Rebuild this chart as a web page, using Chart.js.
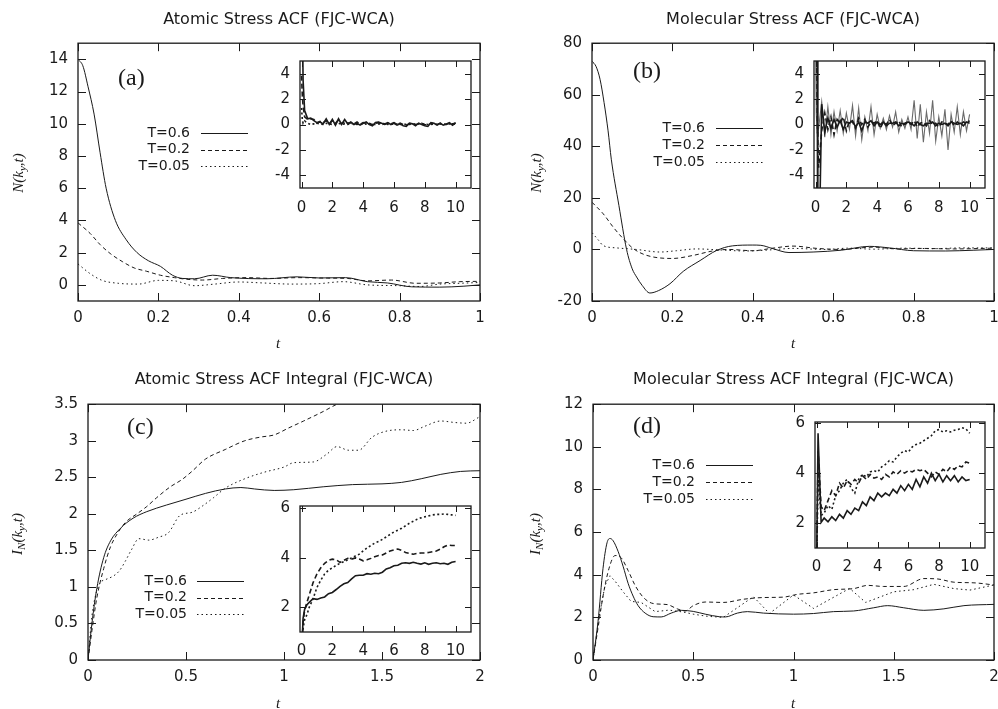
<!DOCTYPE html>
<html>
<head>
<meta charset="utf-8">
<script src="https://cdn.jsdelivr.net/npm/chart.js@4.4.1/dist/chart.umd.min.js"></script>
<style>
  html, body { margin: 0; padding: 0; background: #fff; }
  #wrap { position: relative; width: 998px; height: 709px; overflow: hidden; }
  #wrap canvas { position: absolute; }
</style>
</head>
<body>
<div id="wrap">
  <canvas id="cA" style="left:0;top:0" width="498" height="355"></canvas>
  <canvas id="cB" style="left:498px;top:0" width="500" height="355"></canvas>
  <canvas id="cC" style="left:0;top:355px" width="498" height="354"></canvas>
  <canvas id="cD" style="left:498px;top:355px" width="500" height="354"></canvas>
  <canvas id="iA" style="left:258px;top:53px" width="230" height="170"></canvas>
  <canvas id="iB" style="left:772px;top:53px" width="226" height="170"></canvas>
  <canvas id="iC" style="left:258px;top:498px" width="230" height="170"></canvas>
  <canvas id="iD" style="left:773px;top:414px" width="225" height="170"></canvas>
</div>
<script>
// подписи серий и стили линий
const temps = ['T=0.6', 'T=0.2', 'T=0.05'];
const dashes = [[], [4, 3], [1.5, 3]];
const insetDashes = [[], [5, 3], [2, 2.5]];
const INK = '#1a1a1a';

// тики
const aXTicks = [0, 0.2, 0.4, 0.6, 0.8, 1];
const aYTicks = [0, 2, 4, 6, 8, 10, 12, 14];
const bYTicks = [-20, 0, 20, 40, 60, 80];
const cXTicks = [0, 0.5, 1, 1.5, 2];
const cYTicks = [0, 0.5, 1, 1.5, 2, 2.5, 3, 3.5];
const dYTicks = [0, 2, 4, 6, 8, 10, 12];
const insetXTicks = [0, 2, 4, 6, 8, 10];
const insetACFTicks = [-4, -2, 0, 2, 4];
const insetIntTicks = [2, 4, 6];

// (a) Atomic Stress ACF
const aX06 = [0, 0.012, 0.025, 0.04, 0.055, 0.07, 0.093, 0.12, 0.147, 0.175, 0.205, 0.235, 0.26, 0.29, 0.335, 0.38, 0.47, 0.545, 0.6, 0.665, 0.72, 0.77, 0.83, 0.9, 0.96, 1.0];
const aY06 = [14, 13.6, 12.3, 10.6, 8.2, 6.0, 4.0, 2.8, 2.0, 1.5, 1.15, 0.6, 0.4, 0.38, 0.6, 0.45, 0.38, 0.5, 0.43, 0.45, 0.2, 0.12, -0.12, -0.14, -0.08, 0];
const aX02 = [0, 0.03, 0.055, 0.08, 0.11, 0.14, 0.17, 0.205, 0.24, 0.27, 0.31, 0.36, 0.42, 0.48, 0.55, 0.62, 0.67, 0.72, 0.78, 0.84, 0.9, 0.95, 1.0];
const aY02 = [3.85, 3.2, 2.5, 1.95, 1.45, 1.05, 0.85, 0.6, 0.45, 0.35, 0.3, 0.4, 0.45, 0.4, 0.45, 0.42, 0.4, 0.25, 0.3, 0.1, 0.12, 0.2, 0.22];
const aX005 = [0, 0.03, 0.06, 0.1, 0.15, 0.2, 0.24, 0.29, 0.34, 0.4, 0.46, 0.53, 0.6, 0.66, 0.72, 0.8, 0.85, 0.9, 0.95, 1.0];
const aY005 = [1.3, 0.7, 0.28, 0.1, 0.05, 0.28, 0.25, -0.05, 0.05, 0.18, 0.12, 0.05, 0.08, 0.2, 0.0, -0.05, -0.1, 0.05, 0.1, 0.15];

// (b) Molecular Stress ACF
const bX06 = [0, 0.01, 0.02, 0.03, 0.04, 0.048, 0.067, 0.086, 0.1, 0.111, 0.125, 0.144, 0.165, 0.194, 0.227, 0.269, 0.31, 0.35, 0.4, 0.42, 0.45, 0.49, 0.55, 0.62, 0.69, 0.74, 0.8, 0.88, 0.95, 1.0];
const bY06 = [73, 71, 66, 57, 46, 35, 17, 0, -7.5, -10.7, -14, -16.9, -16, -13.3, -8.5, -4.3, -0.4, 1.4, 1.7, 1.6, 0.3, -1.2, -1.0, -0.3, 1.2, 0.6, -0.5, -0.6, -0.3, 0];
const bX02 = [0, 0.028, 0.053, 0.078, 0.103, 0.136, 0.2, 0.252, 0.3, 0.34, 0.4, 0.45, 0.5, 0.56, 0.62, 0.7, 0.76, 0.82, 0.9, 1.0];
const bY02 = [18.3, 13.8, 8.6, 4.1, 0.3, -2.3, -3.5, -2.3, -0.6, 0.0, -0.5, 0.5, 1.3, 0.4, 0.0, 0.9, 0.2, 0.4, 0.2, 0.5];
const bX005 = [0, 0.015, 0.028, 0.061, 0.11, 0.169, 0.21, 0.26, 0.32, 0.38, 0.44, 0.5, 0.58, 0.64, 0.7, 0.78, 0.85, 0.92, 1.0];
const bY005 = [6.5, 3.8, 1.5, 0.6, 0.0, -1.0, -0.5, 0.2, -0.2, -0.6, -0.2, 0.4, 0.0, 0.5, 0.1, 0.5, 0.3, 0.6, 0.6];

// (c) Atomic Stress ACF Integral
const cX06 = [0, 0.02, 0.045, 0.08, 0.115, 0.165, 0.23, 0.3, 0.4, 0.5, 0.6, 0.7, 0.78, 0.85, 0.95, 1.05, 1.2, 1.35, 1.5, 1.6, 1.7, 1.8, 1.9, 2.0];
const cY06 = [0, 0.5, 0.98, 1.4, 1.63, 1.8, 1.94, 2.03, 2.12, 2.2, 2.28, 2.34, 2.36, 2.34, 2.32, 2.33, 2.37, 2.4, 2.41, 2.43, 2.48, 2.54, 2.58, 2.59];
const cX02 = [0, 0.02, 0.045, 0.08, 0.115, 0.15, 0.19, 0.25, 0.3, 0.35, 0.42, 0.48, 0.53, 0.6, 0.7, 0.8, 0.88, 0.95, 1.02, 1.1, 1.2, 1.27, 1.4, 1.6, 1.8, 2.0];
const cY02 = [0, 0.4, 0.85, 1.25, 1.55, 1.73, 1.88, 2.0, 2.1, 2.22, 2.37, 2.47, 2.58, 2.75, 2.88, 3.0, 3.05, 3.08, 3.17, 3.27, 3.4, 3.5, 3.65, 3.85, 4.0, 4.15];
const cX005 = [0, 0.02, 0.04, 0.06, 0.09, 0.13, 0.16, 0.19, 0.22, 0.26, 0.31, 0.36, 0.41, 0.47, 0.53, 0.58, 0.64, 0.7, 0.8, 0.9, 1.0, 1.05, 1.15, 1.22, 1.27, 1.33, 1.38, 1.45, 1.52, 1.6, 1.66, 1.72, 1.8, 1.87, 1.93, 2.0];
const cY005 = [0, 0.6, 0.9, 1.05, 1.1, 1.15, 1.22, 1.35, 1.5, 1.66, 1.64, 1.68, 1.74, 1.98, 2.02, 2.1, 2.22, 2.35, 2.48, 2.57, 2.64, 2.7, 2.71, 2.82, 2.92, 2.87, 2.87, 3.05, 3.13, 3.15, 3.14, 3.2, 3.27, 3.25, 3.24, 3.33];

// (d) Molecular Stress ACF Integral
const dX06 = [0, 0.025, 0.05, 0.07, 0.085, 0.1, 0.125, 0.15, 0.175, 0.2, 0.225, 0.26, 0.3, 0.34, 0.39, 0.44, 0.5, 0.56, 0.63, 0.66, 0.72, 0.77, 0.85, 1.0, 1.1, 1.2, 1.3, 1.4, 1.47, 1.55, 1.65, 1.75, 1.85, 2.0];
const dY06 = [0, 1.8, 4.3, 5.5, 5.7, 5.6, 5.1, 4.4, 3.6, 3.0, 2.55, 2.2, 2.03, 2.02, 2.2, 2.33, 2.28, 2.15, 2.03, 2.02, 2.2, 2.27, 2.2, 2.15, 2.18, 2.27, 2.3, 2.45, 2.55, 2.45, 2.33, 2.4, 2.55, 2.61];
const dX02 = [0, 0.025, 0.05, 0.08, 0.11, 0.14, 0.175, 0.21, 0.25, 0.3, 0.37, 0.42, 0.46, 0.5, 0.56, 0.65, 0.75, 0.85, 0.95, 1.02, 1.1, 1.2, 1.3, 1.37, 1.45, 1.55, 1.65, 1.72, 1.8, 1.9, 2.0];
const dY02 = [0, 1.5, 3.0, 4.3, 4.9, 4.8, 4.2, 3.5, 2.95, 2.65, 2.6, 2.4, 2.3, 2.55, 2.72, 2.7, 2.85, 2.93, 2.95, 3.08, 3.15, 3.3, 3.35, 3.5, 3.45, 3.45, 3.82, 3.8, 3.65, 3.62, 3.52];
const dX005 = [0, 0.03, 0.06, 0.085, 0.11, 0.15, 0.19, 0.24, 0.31, 0.38, 0.45, 0.5, 0.57, 0.65, 0.8, 0.88, 1.0, 1.1, 1.28, 1.36, 1.5, 1.6, 1.7, 1.8, 1.88, 2.0];
const dY005 = [0, 2.0, 3.5, 3.95, 3.7, 3.2, 2.75, 2.7, 2.27, 2.34, 2.25, 2.15, 2.05, 2.0, 2.97, 2.18, 3.05, 2.42, 3.36, 2.7, 3.2, 3.3, 3.55, 3.35, 3.28, 3.52];

// вставки (insets), t = 0..10
const iaX = [0, 0.05, 0.1, 0.2, 0.4, 0.6, 0.8, 1, 1.2, 1.4, 1.6, 1.8, 2, 2.2, 2.4, 2.6, 2.8, 3, 3.2, 3.4, 3.6, 3.8, 4, 4.2, 4.4, 4.6, 4.8, 5, 5.2, 5.4, 5.6, 5.8, 6, 6.2, 6.4, 6.6, 6.8, 7, 7.2, 7.4, 7.6, 7.8, 8, 8.2, 8.4, 8.6, 8.8, 9, 9.2, 9.4, 9.6, 9.8, 10];
const iaY06 = [14, 9, 3.5, 1.1, 0.45, 0.5, 0.3, 0.15, 0.2, 0.05, 0.45, 0.0, 0.4, -0.05, 0.45, 0.0, 0.4, 0.05, 0.2, 0.0, 0.1, -0.05, 0.1, 0.2, 0.0, -0.1, 0.15, 0.2, 0.1, 0.05, 0.15, 0.0, 0.1, -0.05, 0.05, -0.1, -0.15, 0.1, 0.05, -0.1, 0.1, 0.0, -0.1, -0.15, 0.15, 0.1, -0.05, 0.1, -0.05, 0.05, 0.15, -0.05, 0.15];
const iaY02 = [3.85, 2.3, 1.45, 0.6, 0.4, 0.45, 0.4, 0.1, 0.25, 0.15, 0.3, 0.05, 0.3, 0.1, 0.35, 0.05, 0.25, 0.1, 0.15, 0.05, 0.2, 0.0, 0.15, 0.1, 0.05, 0.0, 0.1, 0.15, 0.05, 0.0, 0.1, 0.05, 0.15, 0.0, 0.1, 0.0, -0.05, 0.05, 0.1, 0.0, 0.05, 0.1, 0.0, -0.05, 0.1, 0.05, 0.0, 0.1, 0.05, 0.0, 0.1, 0.05, 0.1];
const iaY005 = [1.3, 0.4, 0.1, 0.28, 0.1, 0.0, 0.05, 0.1, 0.05, 0.0, 0.1, 0.05, 0.0, 0.05, 0.1, 0.0, 0.05, 0.0, 0.1, 0.05, 0.0, 0.05, 0.0, 0.05, 0.1, 0.0, 0.0, 0.05, 0.0, 0.05, 0.0, 0.05, 0.0, 0.05, 0.0, 0.05, 0.0, 0.0, 0.05, 0.0, 0.05, 0.0, 0.05, 0.0, 0.0, 0.05, 0.0, 0.05, 0.0, 0.0, 0.05, 0.0, 0.05];

const ibX = [0, 0.05, 0.1, 0.15, 0.2, 0.4, 0.6, 0.8, 1, 1.2, 1.4, 1.6, 1.8, 2, 2.2, 2.4, 2.6, 2.8, 3, 3.2, 3.4, 3.6, 3.8, 4, 4.2, 4.4, 4.6, 4.8, 5, 5.2, 5.4, 5.6, 5.8, 6, 6.2, 6.4, 6.6, 6.8, 7, 7.2, 7.4, 7.6, 7.8, 8, 8.2, 8.4, 8.6, 8.8, 9, 9.2, 9.4, 9.6, 9.8, 10];
const ibY06 = [73, 47, 10, -16.5, -12, 1.6, -0.6, 0.5, -0.3, 0.4, -0.2, 0.3, -0.4, 0.2, 0.1, 0.3, -0.2, 0.2, -0.5, 0.2, 0.1, 0.3, -0.1, 0.2, 0.0, 0.2, -0.1, 0.1, 0.1, 0.2, -0.1, 0.1, 0.0, 0.2, 0.1, -0.1, 0.2, 0.0, -0.1, 0.1, 0.1, 0.2, -0.1, 0.1, 0.0, 0.1, -0.1, 0.2, 0.1, 0.0, 0.1, -0.1, 0.2, 0.1];
const ibY02 = [18.3, 10.5, 2.0, -1.5, -3.4, -0.5, 0.9, -0.4, 0.6, -0.8, 0.4, 0.1, 0.6, -0.5, 0.3, 0.2, -0.3, 0.5, 0.0, 0.4, -0.2, 0.2, 0.1, 0.3, -0.3, 0.2, 0.0, 0.4, -0.1, 0.1, 0.3, -0.2, 0.1, 0.2, 0.0, 0.3, -0.2, 0.1, 0.2, -0.1, 0.3, 0.0, 0.1, -0.2, 0.2, 0.1, 0.0, 0.3, -0.1, 0.2, 0.0, 0.2, 0.1, 0.3];
const ibY005 = [6.3, 0.8, -0.6, -0.9, -0.3, 1.8, -1.0, 1.4, -0.8, 1.0, -0.5, 1.1, -0.7, 0.9, -0.4, 1.5, -0.9, 1.3, -1.2, 0.6, -0.5, 1.4, -0.8, 0.8, -0.3, 0.5, -0.4, 0.7, -0.2, 1.0, -0.6, 0.4, -0.3, 0.6, -0.4, 1.9, -1.1, 1.6, -1.4, 1.0, -0.7, 1.9, -1.3, 0.6, -0.9, 1.2, -2.0, 0.8, -0.6, 1.4, -0.8, 1.0, -0.5, 0.8];

const icX = [0, 0.1, 0.2, 0.35, 0.5, 0.75, 1, 1.25, 1.5, 1.75, 2, 2.25, 2.5, 2.75, 3, 3.25, 3.5, 3.75, 4, 4.25, 4.5, 4.75, 5, 5.25, 5.5, 5.75, 6, 6.25, 6.5, 6.75, 7, 7.25, 7.5, 7.75, 8, 8.25, 8.5, 8.75, 9, 9.25, 9.5, 9.75, 10];
const icY06 = [0, 1.55, 1.92, 2.1, 2.2, 2.35, 2.32, 2.38, 2.42, 2.55, 2.6, 2.72, 2.85, 2.95, 3.0, 3.15, 3.28, 3.3, 3.3, 3.36, 3.34, 3.38, 3.36, 3.42, 3.55, 3.6, 3.68, 3.7, 3.78, 3.8, 3.78, 3.82, 3.78, 3.75, 3.8, 3.74, 3.78, 3.8, 3.76, 3.78, 3.74, 3.82, 3.85];
const icY02 = [0, 1.4, 1.88, 2.2, 2.5, 3.0, 3.35, 3.6, 3.78, 3.9, 3.95, 3.92, 3.82, 3.9, 3.98, 3.95, 4.0, 3.95, 3.88, 3.92, 3.98, 4.05, 4.1, 4.12, 4.2, 4.28, 4.32, 4.36, 4.3, 4.22, 4.18, 4.15, 4.18, 4.2, 4.2, 4.22, 4.25, 4.28, 4.35, 4.45, 4.52, 4.5, 4.5];
const icY005 = [0, 1.15, 1.5, 1.7, 2.0, 2.35, 2.8, 3.1, 3.35, 3.5, 3.6, 3.7, 3.78, 3.85, 3.92, 4.0, 4.08, 4.15, 4.28, 4.4, 4.5, 4.6, 4.66, 4.75, 4.85, 4.95, 5.05, 5.12, 5.2, 5.3, 5.4, 5.48, 5.56, 5.62, 5.66, 5.7, 5.74, 5.76, 5.76, 5.78, 5.76, 5.74, 5.72];

const idX = [0, 0.1, 0.3, 0.5, 0.75, 1, 1.25, 1.5, 1.75, 2, 2.25, 2.5, 2.75, 3, 3.25, 3.5, 3.75, 4, 4.25, 4.5, 4.75, 5, 5.25, 5.5, 5.75, 6, 6.25, 6.5, 6.75, 7, 7.25, 7.5, 7.75, 8, 8.25, 8.5, 8.75, 9, 9.25, 9.5, 9.75, 10];
const idY06 = [0, 5.6, 2.03, 2.2, 2.05, 2.25, 2.1, 2.35, 2.2, 2.5, 2.35, 2.6, 2.5, 2.85, 2.7, 3.05, 2.9, 3.2, 3.05, 3.2, 3.1, 3.35, 3.2, 3.5, 3.3, 3.55, 3.35, 3.75, 3.45, 3.85, 3.6, 4.0, 3.7, 3.95, 3.65, 3.9, 3.7, 3.9, 3.65, 3.85, 3.7, 3.75];
const idY02 = [0, 4.9, 2.65, 2.5, 2.9, 3.3, 3.1, 3.6, 3.4, 3.7, 3.55, 3.75, 3.6, 3.9, 3.75, 3.95, 3.8, 3.85, 3.75, 3.95, 3.85, 4.05, 3.95, 4.1, 4.0, 4.1, 4.05, 4.15, 4.1, 4.15, 4.0, 3.85, 4.05, 3.95, 4.15, 4.05, 4.25, 4.15, 4.3, 4.25, 4.45, 4.4];
const idY005 = [0, 3.85, 2.3, 2.4, 2.7, 2.55, 3.1, 3.3, 3.6, 3.75, 3.4, 3.2, 3.75, 3.95, 3.85, 4.05, 4.1, 4.05, 4.25, 4.35, 4.5, 4.45, 4.65, 4.8, 4.9, 4.85, 5.05, 5.15, 5.2, 5.3, 5.4, 5.5, 5.7, 5.75, 5.65, 5.7, 5.65, 5.72, 5.75, 5.82, 5.78, 5.6];

// подписи осей с индексами
const axisLabels = {
  N: [{ t: 'N(k' }, { t: 'y', sub: true }, { t: ',t)' }],
  IN: [{ t: 'I' }, { t: 'N', sub: true }, { t: '(k' }, { t: 'y', sub: true }, { t: ',t)' }],
  t: [{ t: 't' }]
};

Chart.defaults.font.family = '"DejaVu Sans", sans-serif';

function richText(ctx, parts, x, y, vertical) {
  const big = 'italic 15px "Liberation Serif"';
  const small = 'italic 11px "Liberation Serif"';
  let w = 0;
  parts.forEach(p => { ctx.font = p.sub ? small : big; w += ctx.measureText(p.t).width; });
  ctx.save();
  ctx.translate(x, y);
  if (vertical) ctx.rotate(-Math.PI / 2);
  ctx.textAlign = 'left';
  ctx.textBaseline = 'alphabetic';
  let cx = -w / 2;
  parts.forEach(p => {
    ctx.font = p.sub ? small : big;
    ctx.fillText(p.t, cx, p.sub ? 8 : 5);
    cx += ctx.measureText(p.t).width;
  });
  ctx.restore();
}

// рамка и внутренние засечки как в gnuplot
const framePlugin = {
  id: 'frame',
  afterDraw(chart, args, opts) {
    const { ctx, chartArea: a } = chart;
    const L = opts.tick || 8;
    ctx.save();
    ctx.strokeStyle = INK;
    ctx.lineWidth = 1.3;
    ctx.strokeRect(a.left, a.top, a.right - a.left, a.bottom - a.top);
    ctx.lineWidth = 1;
    ctx.beginPath();
    chart.scales.x.ticks.forEach(t => {
      const px = Math.round(chart.scales.x.getPixelForValue(t.value)) + 0.5;
      ctx.moveTo(px, a.bottom); ctx.lineTo(px, a.bottom - L);
      ctx.moveTo(px, a.top); ctx.lineTo(px, a.top + L);
    });
    chart.scales.y.ticks.forEach(t => {
      const py = Math.round(chart.scales.y.getPixelForValue(t.value)) + 0.5;
      ctx.moveTo(a.left, py); ctx.lineTo(a.left + L, py);
      ctx.moveTo(a.right, py); ctx.lineTo(a.right - L, py);
    });
    ctx.stroke();
    ctx.restore();
  }
};

// метка панели, легенда, подписи осей
const notesPlugin = {
  id: 'notes',
  afterDraw(chart, args, o) {
    const ctx = chart.ctx;
    ctx.save();
    ctx.fillStyle = INK;
    ctx.strokeStyle = INK;
    if (o.tag) {
      ctx.font = '24px "Liberation Serif"';
      ctx.textAlign = 'left';
      ctx.textBaseline = 'middle';
      ctx.fillText(o.tag, o.tagX, o.tagY);
    }
    if (o.legX) {
      ctx.font = '14px "DejaVu Sans"';
      ctx.textAlign = 'right';
      ctx.textBaseline = 'middle';
      temps.forEach((name, i) => {
        const y = o.legY + i * o.legGap;
        ctx.fillText(name, o.legX, y);
        ctx.beginPath();
        ctx.setLineDash(dashes[i]);
        ctx.lineWidth = 1;
        ctx.moveTo(o.legX0, Math.round(y) + 0.5);
        ctx.lineTo(o.legX1, Math.round(y) + 0.5);
        ctx.stroke();
      });
      ctx.setLineDash([]);
    }
    if (o.yLab) richText(ctx, axisLabels[o.yLab], o.yLabX, o.yLabY, true);
    if (o.xLab) richText(ctx, axisLabels[o.xLab], o.xLabX, o.xLabY, false);
    ctx.restore();
  }
};

function lineSet(xs, ys, dash, width, smooth, color) {
  return {
    data: xs.map((x, i) => ({ x: x, y: ys[i] })),
    borderColor: color || INK,
    borderWidth: width,
    borderDash: dash,
    pointRadius: 0,
    fill: false,
    tension: 0,
    cubicInterpolationMode: smooth ? 'monotone' : 'default'
  };
}

function axis(min, max, ticks, dir, size, pad) {
  return {
    type: 'linear',
    min: min,
    max: max,
    grid: { display: false, drawTicks: false },
    border: { display: false },
    ticks: { color: INK, font: { size: 15 }, padding: pad, autoSkip: false, maxRotation: 0, callback: v => String(v) },
    afterBuildTicks: s => { s.ticks = ticks.map(v => ({ value: v })); },
    afterFit: s => {
      if (dir === 'x') s.height = size; else s.width = size;
      s.paddingLeft = 0; s.paddingRight = 0; s.paddingTop = 0; s.paddingBottom = 0;
    }
  };
}

function buildChart(id, o) {
  return new Chart(document.getElementById(id), {
    type: 'line',
    data: { datasets: o.sets },
    options: {
      responsive: false,
      animation: false,
      events: [],
      layout: { padding: { left: 0, right: o.padR, top: o.padT || 0, bottom: 0 } },
      plugins: {
        legend: { display: false },
        tooltip: { enabled: false },
        title: o.title ? {
          display: true, text: o.title, fullSize: false, color: INK,
          font: { size: 16, weight: 'normal' },
          padding: { top: o.tTop, bottom: o.tBot }
        } : { display: false },
        frame: { tick: o.tick },
        notes: o.notes || {}
      },
      scales: {
        x: axis(o.xMin, o.xMax, o.xTicks, 'x', o.xH, o.xPad),
        y: axis(o.yMin, o.yMax, o.yTicks, 'y', o.yW, o.yPad)
      }
    },
    plugins: [framePlugin, notesPlugin]
  });
}

function mainSets(x1, y1, x2, y2, x3, y3, zigzag) {
  return [
    lineSet(x1, y1, dashes[0], 1, true),
    lineSet(x2, y2, dashes[1], 1, true),
    lineSet(x3, y3, dashes[2], 1, !zigzag)
  ];
}

function insetSets(x, y1, y2, y3, grayLast) {
  return [
    lineSet(x, y1, insetDashes[0], 1.6, false),
    lineSet(x, y2, insetDashes[1], 1.6, false),
    grayLast ? lineSet(x, y3, [], 1.1, false, '#6a6a6a') : lineSet(x, y3, insetDashes[2], 1.6, false)
  ];
}

// основные панели (title: 16px -> высота строки 19)
buildChart('cA', {
  sets: mainSets(aX06, aY06, aX02, aY02, aX005, aY005),
  title: 'Atomic Stress ACF (FJC-WCA)', tTop: 10, tBot: 14,
  padR: 18, yW: 78, xH: 54, xPad: 8, yPad: 10, tick: 8,
  xMin: 0, xMax: 1, xTicks: aXTicks, yMin: -1, yMax: 15, yTicks: aYTicks,
  notes: { tag: '(a)', tagX: 118, tagY: 79, legX: 190, legY: 133, legGap: 16.5, legX0: 201, legX1: 248,
           yLab: 'N', yLabX: 18, yLabY: 173, xLab: 't', xLabX: 278, xLabY: 343 }
});
buildChart('cB', {
  sets: mainSets(bX06, bY06, bX02, bY02, bX005, bY005),
  title: 'Molecular Stress ACF (FJC-WCA)', tTop: 10, tBot: 14,
  padR: 4, yW: 94, xH: 54, xPad: 8, yPad: 10, tick: 8,
  xMin: 0, xMax: 1, xTicks: aXTicks, yMin: -20, yMax: 80, yTicks: bYTicks,
  notes: { tag: '(b)', tagX: 135, tagY: 72, legX: 207, legY: 128, legGap: 17, legX0: 218, legX1: 265,
           yLab: 'N', yLabX: 38, yLabY: 173, xLab: 't', xLabX: 295, xLabY: 343 }
});
buildChart('cC', {
  sets: mainSets(cX06, cY06, cX02, cY02, cX005, cY005),
  title: 'Atomic Stress ACF Integral (FJC-WCA)', tTop: 15, tBot: 15,
  padR: 18, yW: 88, xH: 49, xPad: 8, yPad: 10, tick: 8,
  xMin: 0, xMax: 2, xTicks: cXTicks, yMin: 0, yMax: 3.5, yTicks: cYTicks,
  notes: { tag: '(c)', tagX: 127, tagY: 73, legX: 187, legY: 226, legGap: 16.5, legX0: 197, legX1: 244,
           yLab: 'IN', yLabX: 17, yLabY: 179, xLab: 't', xLabX: 278, xLabY: 348 }
});
buildChart('cD', {
  sets: mainSets(dX06, dY06, dX02, dY02, dX005, dY005, true),
  title: 'Molecular Stress ACF Integral (FJC-WCA)', tTop: 15, tBot: 15,
  padR: 4, yW: 95, xH: 49, xPad: 8, yPad: 10, tick: 8,
  xMin: 0, xMax: 2, xTicks: cXTicks, yMin: 0, yMax: 12, yTicks: dYTicks,
  notes: { tag: '(d)', tagX: 135, tagY: 72, legX: 197, legY: 110, legGap: 17, legX0: 208, legX1: 255,
           yLab: 'IN', yLabX: 37, yLabY: 179, xLab: 't', xLabX: 295, xLabY: 348 }
});

// вставки
buildChart('iA', {
  sets: insetSets(iaX, iaY06, iaY02, iaY005),
  padR: 17, padT: 8, yW: 42, xH: 35, xPad: 11, yPad: 10, tick: 6,
  xMin: -0.1, xMax: 11, xTicks: insetXTicks, yMin: -5, yMax: 5, yTicks: insetACFTicks
});
buildChart('iB', {
  sets: insetSets(ibX, ibY06, ibY02, ibY005, true),
  padR: 13, padT: 8, yW: 42, xH: 35, xPad: 11, yPad: 10, tick: 6,
  xMin: -0.1, xMax: 11, xTicks: insetXTicks, yMin: -5, yMax: 5, yTicks: insetACFTicks
});
buildChart('iC', {
  sets: insetSets(icX, icY06, icY02, icY005),
  padR: 17, padT: 8, yW: 42, xH: 36, xPad: 10, yPad: 10, tick: 6,
  xMin: -0.1, xMax: 11, xTicks: insetXTicks, yMin: 1, yMax: 6.1, yTicks: insetIntTicks
});
buildChart('iD', {
  sets: insetSets(idX, idY06, idY02, idY005),
  padR: 13, padT: 8, yW: 42, xH: 36, xPad: 10, yPad: 10, tick: 6,
  xMin: -0.1, xMax: 11, xTicks: insetXTicks, yMin: 1, yMax: 6.05, yTicks: insetIntTicks
});
</script>
</body>
</html>
